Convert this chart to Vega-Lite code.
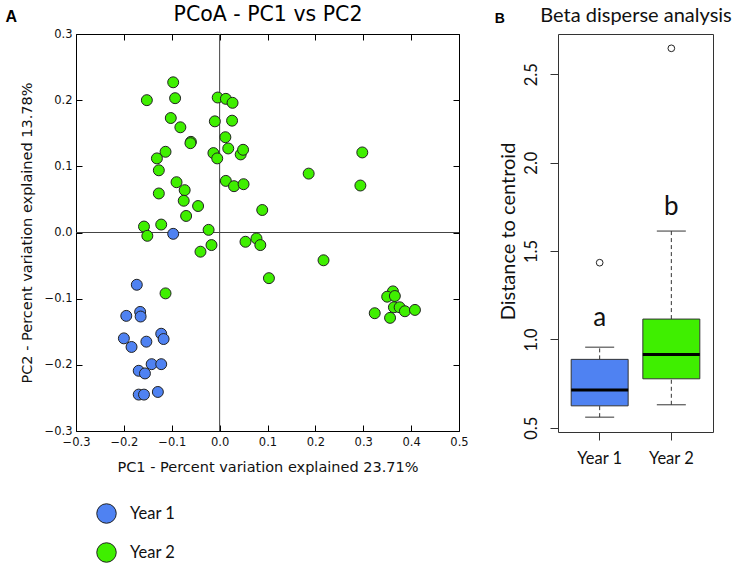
{
  "$schema": "https://vega.github.io/schema/vega-lite/v6.json",
  "background": "white",
  "padding": {"left": 4, "top": 3, "right": 0, "bottom": 0},
  "bounds": "flush",
  "spacing": 99,
  "config": {"axis": {"grid": false, "labelFlush": false, "labelOverlap": false}},
  "datasets": {
    "pcoa": [
      {"pc1": -0.097, "pc2": -0.002, "year": "Year 1"},
      {"pc1": -0.173, "pc2": -0.079, "year": "Year 1"},
      {"pc1": -0.195, "pc2": -0.126, "year": "Year 1"},
      {"pc1": -0.166, "pc2": -0.120, "year": "Year 1"},
      {"pc1": -0.165, "pc2": -0.127, "year": "Year 1"},
      {"pc1": -0.200, "pc2": -0.160, "year": "Year 1"},
      {"pc1": -0.184, "pc2": -0.173, "year": "Year 1"},
      {"pc1": -0.153, "pc2": -0.165, "year": "Year 1"},
      {"pc1": -0.122, "pc2": -0.153, "year": "Year 1"},
      {"pc1": -0.117, "pc2": -0.161, "year": "Year 1"},
      {"pc1": -0.142, "pc2": -0.199, "year": "Year 1"},
      {"pc1": -0.122, "pc2": -0.199, "year": "Year 1"},
      {"pc1": -0.169, "pc2": -0.209, "year": "Year 1"},
      {"pc1": -0.156, "pc2": -0.213, "year": "Year 1"},
      {"pc1": -0.169, "pc2": -0.245, "year": "Year 1"},
      {"pc1": -0.158, "pc2": -0.245, "year": "Year 1"},
      {"pc1": -0.129, "pc2": -0.241, "year": "Year 1"},
      {"pc1": -0.152, "pc2": 0.200, "year": "Year 2"},
      {"pc1": -0.097, "pc2": 0.227, "year": "Year 2"},
      {"pc1": -0.093, "pc2": 0.203, "year": "Year 2"},
      {"pc1": -0.102, "pc2": 0.173, "year": "Year 2"},
      {"pc1": -0.082, "pc2": 0.159, "year": "Year 2"},
      {"pc1": -0.060, "pc2": 0.137, "year": "Year 2"},
      {"pc1": -0.061, "pc2": 0.135, "year": "Year 2"},
      {"pc1": -0.113, "pc2": 0.122, "year": "Year 2"},
      {"pc1": -0.131, "pc2": 0.112, "year": "Year 2"},
      {"pc1": -0.127, "pc2": 0.094, "year": "Year 2"},
      {"pc1": -0.127, "pc2": 0.059, "year": "Year 2"},
      {"pc1": -0.090, "pc2": 0.076, "year": "Year 2"},
      {"pc1": -0.073, "pc2": 0.064, "year": "Year 2"},
      {"pc1": -0.075, "pc2": 0.048, "year": "Year 2"},
      {"pc1": -0.070, "pc2": 0.025, "year": "Year 2"},
      {"pc1": -0.045, "pc2": 0.040, "year": "Year 2"},
      {"pc1": -0.158, "pc2": 0.009, "year": "Year 2"},
      {"pc1": -0.151, "pc2": -0.005, "year": "Year 2"},
      {"pc1": -0.122, "pc2": 0.012, "year": "Year 2"},
      {"pc1": -0.023, "pc2": 0.004, "year": "Year 2"},
      {"pc1": -0.004, "pc2": 0.204, "year": "Year 2"},
      {"pc1": 0.013, "pc2": 0.202, "year": "Year 2"},
      {"pc1": 0.027, "pc2": 0.196, "year": "Year 2"},
      {"pc1": -0.010, "pc2": 0.168, "year": "Year 2"},
      {"pc1": 0.026, "pc2": 0.169, "year": "Year 2"},
      {"pc1": 0.012, "pc2": 0.144, "year": "Year 2"},
      {"pc1": 0.018, "pc2": 0.127, "year": "Year 2"},
      {"pc1": -0.013, "pc2": 0.120, "year": "Year 2"},
      {"pc1": -0.005, "pc2": 0.112, "year": "Year 2"},
      {"pc1": 0.044, "pc2": 0.118, "year": "Year 2"},
      {"pc1": 0.049, "pc2": 0.125, "year": "Year 2"},
      {"pc1": 0.013, "pc2": 0.078, "year": "Year 2"},
      {"pc1": 0.030, "pc2": 0.070, "year": "Year 2"},
      {"pc1": 0.050, "pc2": 0.073, "year": "Year 2"},
      {"pc1": 0.089, "pc2": 0.034, "year": "Year 2"},
      {"pc1": 0.186, "pc2": 0.089, "year": "Year 2"},
      {"pc1": 0.298, "pc2": 0.121, "year": "Year 2"},
      {"pc1": 0.294, "pc2": 0.071, "year": "Year 2"},
      {"pc1": -0.040, "pc2": -0.029, "year": "Year 2"},
      {"pc1": -0.017, "pc2": -0.019, "year": "Year 2"},
      {"pc1": -0.113, "pc2": -0.092, "year": "Year 2"},
      {"pc1": 0.054, "pc2": -0.014, "year": "Year 2"},
      {"pc1": 0.077, "pc2": -0.009, "year": "Year 2"},
      {"pc1": 0.085, "pc2": -0.019, "year": "Year 2"},
      {"pc1": 0.103, "pc2": -0.069, "year": "Year 2"},
      {"pc1": 0.217, "pc2": -0.042, "year": "Year 2"},
      {"pc1": 0.362, "pc2": -0.089, "year": "Year 2"},
      {"pc1": 0.350, "pc2": -0.097, "year": "Year 2"},
      {"pc1": 0.366, "pc2": -0.096, "year": "Year 2"},
      {"pc1": 0.364, "pc2": -0.113, "year": "Year 2"},
      {"pc1": 0.376, "pc2": -0.113, "year": "Year 2"},
      {"pc1": 0.387, "pc2": -0.119, "year": "Year 2"},
      {"pc1": 0.408, "pc2": -0.117, "year": "Year 2"},
      {"pc1": 0.324, "pc2": -0.122, "year": "Year 2"},
      {"pc1": 0.356, "pc2": -0.129, "year": "Year 2"}
    ],
    "origin": [{"origin": 0}],
    "box": [
      {"group": "Year 1", "lower": 0.56, "q1": 0.624, "median": 0.713, "q3": 0.887, "upper": 0.956},
      {"group": "Year 2", "lower": 0.63, "q1": 0.777, "median": 0.915, "q3": 1.115, "upper": 1.613}
    ],
    "outliers": [
      {"group": "Year 1", "value": 1.434},
      {"group": "Year 2", "value": 2.647}
    ],
    "letters": [
      {"group": "Year 1", "letter": "a", "value": 1.074},
      {"group": "Year 2", "letter": "b", "value": 1.705}
    ]
  },
  "resolve": {"scale": {"color": "independent"}},
  "hconcat": [
    {
      "width": 383,
      "height": 397,
      "view": {"stroke": "#000", "strokeWidth": 1, "fill": "white"},
      "resolve": {"axis": {"x": "independent", "y": "independent"}},
      "layer": [
        {
          "data": {"name": "origin"},
          "mark": {"type": "rule", "color": "#444", "strokeWidth": 1},
          "encoding": {
            "x": {"field": "origin", "type": "quantitative", "scale": {"domain": [-0.3, 0.5], "nice": false, "zero": false},
              "axis": {"orient": "top", "values": [-0.3, -0.2, -0.1, 0, 0.1, 0.2, 0.3, 0.4, 0.5], "labels": false, "domain": false, "tickSize": -6, "tickColor": "#000",
                "title": "A", "titleX": -71, "titleY": -12.3, "titleAlign": "left", "titleBaseline": "alphabetic", "titleAngle": 0, "titleFont": "Liberation Sans", "titleFontSize": 16, "titleFontWeight": "bold", "titleColor": "#000"}}
          }
        },
        {
          "data": {"name": "origin"},
          "mark": {"type": "rule", "color": "#444", "strokeWidth": 1},
          "encoding": {
            "y": {"field": "origin", "type": "quantitative", "scale": {"domain": [-0.3, 0.3], "nice": false, "zero": false},
              "axis": {"orient": "right", "values": [-0.3, -0.2, -0.1, 0, 0.1, 0.2, 0.3], "labels": false, "domain": false, "tickSize": -6, "tickColor": "#000",
                "title": "PCoA - PC1 vs PC2", "titleX": -191.5, "titleY": -14, "titleAlign": "center", "titleBaseline": "alphabetic", "titleAngle": 0, "titleFont": "DejaVu Sans", "titleFontSize": 20.5, "titleFontWeight": "normal", "titleColor": "#000"}}
          }
        },
        {
          "data": {"name": "pcoa"},
          "mark": {"type": "point", "filled": true, "size": 120, "opacity": 1, "stroke": "#222", "strokeWidth": 1},
          "encoding": {
            "x": {"field": "pc1", "type": "quantitative", "scale": {"domain": [-0.3, 0.5], "nice": false, "zero": false},
              "axis": {"orient": "bottom", "values": [-0.3, -0.2, -0.1, 0, 0.1, 0.2, 0.3, 0.4, 0.5], "format": ".1f", "domain": false, "tickSize": -6, "tickColor": "#000",
                "labelFont": "DejaVu Sans", "labelFontSize": 11.5, "labelColor": "#111", "labelBaseline": "alphabetic", "labelPadding": 20.3, "labelFlush": false,
                "title": "PC1 - Percent variation explained 23.71%", "titleFont": "DejaVu Sans", "titleFontSize": 14.5, "titleFontWeight": "normal", "titleColor": "#111",
                "titleX": 191.5, "titleY": 40, "titleAlign": "center", "titleBaseline": "alphabetic"}},
            "y": {"field": "pc2", "type": "quantitative", "scale": {"domain": [-0.3, 0.3], "nice": false, "zero": false},
              "axis": {"orient": "left", "values": [-0.3, -0.2, -0.1, 0, 0.1, 0.2, 0.3], "format": ".1f", "domain": false, "tickSize": -6, "tickColor": "#000",
                "labelFont": "DejaVu Sans", "labelFontSize": 11.5, "labelColor": "#111", "labelPadding": 10, "labelFlush": false,
                "title": "PC2 - Percent variation explained 13.78%", "titleFont": "DejaVu Sans", "titleFontSize": 14.5, "titleFontWeight": "normal", "titleColor": "#111",
                "titleX": -44.5, "titleY": 198.5, "titleAngle": -90, "titleAlign": "center", "titleBaseline": "alphabetic"}},
            "color": {"field": "year", "type": "nominal",
              "scale": {"domain": ["Year 1", "Year 2"], "range": ["#4f82f2", "#3fef00"]},
              "legend": {"orient": "none", "legendX": 20, "legendY": 469, "direction": "vertical", "padding": 0, "title": null,
                "symbolType": "circle", "symbolSize": 380, "symbolStrokeColor": "#222", "symbolStrokeWidth": 1, "symbolOpacity": 1,
                "labelFont": "Lato", "labelFontSize": 16.5, "labelColor": "#111", "labelOffset": 13, "rowPadding": 14}}
          }
        }
      ]
    },
    {
      "width": 155,
      "height": 398,
      "view": {"stroke": "#333", "strokeWidth": 1, "fill": "white"},
      "resolve": {"axis": {"x": "independent", "y": "independent"}},
      "layer": [
        {
          "data": {"name": "box"},
          "mark": {"type": "rule", "color": "#333", "strokeWidth": 1, "strokeDash": [4, 3]},
          "encoding": {
            "x": {"field": "group", "type": "nominal", "scale": {"type": "band", "domain": ["Year 1", "Year 2"], "paddingInner": 0.205, "paddingOuter": 0.184}, "axis": null},
            "y": {"field": "q3", "type": "quantitative", "scale": {"domain": [0.476, 2.728], "nice": false, "zero": false}, "axis": null},
            "y2": {"field": "upper"}
          }
        },
        {
          "data": {"name": "box"},
          "mark": {"type": "rule", "color": "#333", "strokeWidth": 1, "strokeDash": [4, 3]},
          "encoding": {
            "x": {"field": "group", "type": "nominal", "scale": {"type": "band", "domain": ["Year 1", "Year 2"], "paddingInner": 0.205, "paddingOuter": 0.184}, "axis": null},
            "y": {"field": "lower", "type": "quantitative", "scale": {"domain": [0.476, 2.728], "nice": false, "zero": false}, "axis": null},
            "y2": {"field": "q1"}
          }
        },
        {
          "data": {"name": "box"},
          "mark": {"type": "tick", "color": "#333", "size": 29, "thickness": 1, "opacity": 1},
          "encoding": {
            "x": {"field": "group", "type": "nominal", "scale": {"type": "band", "domain": ["Year 1", "Year 2"], "paddingInner": 0.205, "paddingOuter": 0.184}, "axis": null},
            "y": {"field": "upper", "type": "quantitative", "scale": {"domain": [0.476, 2.728], "nice": false, "zero": false}, "axis": null}
          }
        },
        {
          "data": {"name": "box"},
          "mark": {"type": "tick", "color": "#333", "size": 29, "thickness": 1, "opacity": 1},
          "encoding": {
            "x": {"field": "group", "type": "nominal", "scale": {"type": "band", "domain": ["Year 1", "Year 2"], "paddingInner": 0.205, "paddingOuter": 0.184}, "axis": null},
            "y": {"field": "lower", "type": "quantitative", "scale": {"domain": [0.476, 2.728], "nice": false, "zero": false}, "axis": null}
          }
        },
        {
          "data": {"name": "box"},
          "mark": {"type": "bar", "stroke": "#333", "strokeWidth": 1, "opacity": 1},
          "encoding": {
            "x": {"field": "group", "type": "nominal", "scale": {"type": "band", "domain": ["Year 1", "Year 2"], "paddingInner": 0.205, "paddingOuter": 0.184},
              "axis": {"orient": "bottom", "domain": false, "tickSize": 8, "tickColor": "#333", "labelAngle": 0, "labelFont": "Lato", "labelFontSize": 16.5, "labelColor": "#111", "labelBaseline": "alphabetic", "labelPadding": 23.7, "title": null}},
            "y": {"field": "q1", "type": "quantitative", "scale": {"domain": [0.476, 2.728], "nice": false, "zero": false},
              "axis": {"orient": "left", "values": [0.5, 1, 1.5, 2, 2.5], "format": ".1f", "domain": false, "tickSize": 8, "tickColor": "#333",
                "labelAngle": -90, "labelAlign": "center", "labelBaseline": "alphabetic", "labelPadding": 13.7, "labelFont": "Lato", "labelFontSize": 16.5, "labelColor": "#111", "labelFlush": false,
                "title": "Distance to centroid", "titleFont": "Lato", "titleFontSize": 20, "titleFontWeight": "normal", "titleColor": "#111",
                "titleX": -43.7, "titleY": 197, "titleAngle": -90, "titleAlign": "center", "titleBaseline": "alphabetic"}},
            "y2": {"field": "q3"},
            "color": {"field": "group", "type": "nominal", "scale": {"domain": ["Year 1", "Year 2"], "range": ["#4f82f2", "#3fef00"]}, "legend": null}
          }
        },
        {
          "data": {"name": "box"},
          "mark": {"type": "tick", "color": "#000", "size": 57, "thickness": 3, "opacity": 1},
          "encoding": {
            "x": {"field": "group", "type": "nominal", "scale": {"type": "band", "domain": ["Year 1", "Year 2"], "paddingInner": 0.205, "paddingOuter": 0.184}, "axis": null},
            "y": {"field": "median", "type": "quantitative", "scale": {"domain": [0.476, 2.728], "nice": false, "zero": false}, "axis": null}
          }
        },
        {
          "data": {"name": "outliers"},
          "mark": {"type": "point", "filled": false, "size": 45, "color": "#222", "strokeWidth": 1, "opacity": 1},
          "encoding": {
            "x": {"field": "group", "type": "nominal", "scale": {"type": "band", "domain": ["Year 1", "Year 2"], "paddingInner": 0.205, "paddingOuter": 0.184}, "axis": null},
            "y": {"field": "value", "type": "quantitative", "scale": {"domain": [0.476, 2.728], "nice": false, "zero": false},
              "axis": {"orient": "right", "ticks": false, "labels": false, "domain": false,
                "title": "Beta disperse analysis", "titleX": -77.5, "titleY": -12.3, "titleAlign": "center", "titleBaseline": "alphabetic", "titleAngle": 0, "titleFont": "Lato", "titleFontSize": 20, "titleFontWeight": "normal", "titleColor": "#111"}}
          }
        },
        {
          "data": {"name": "letters"},
          "mark": {"type": "text", "font": "Lato", "fontSize": 26, "baseline": "alphabetic", "align": "center", "color": "#111"},
          "encoding": {
            "x": {"field": "group", "type": "nominal", "scale": {"type": "band", "domain": ["Year 1", "Year 2"], "paddingInner": 0.205, "paddingOuter": 0.184},
              "axis": {"orient": "top", "ticks": false, "labels": false, "domain": false,
                "title": "B", "titleX": -63.7, "titleY": -12, "titleAlign": "left", "titleBaseline": "alphabetic", "titleAngle": 0, "titleFont": "Liberation Sans", "titleFontSize": 14, "titleFontWeight": "bold", "titleColor": "#000"}},
            "y": {"field": "value", "type": "quantitative", "scale": {"domain": [0.476, 2.728], "nice": false, "zero": false}, "axis": null},
            "text": {"field": "letter"}
          }
        }
      ]
    }
  ]
}
